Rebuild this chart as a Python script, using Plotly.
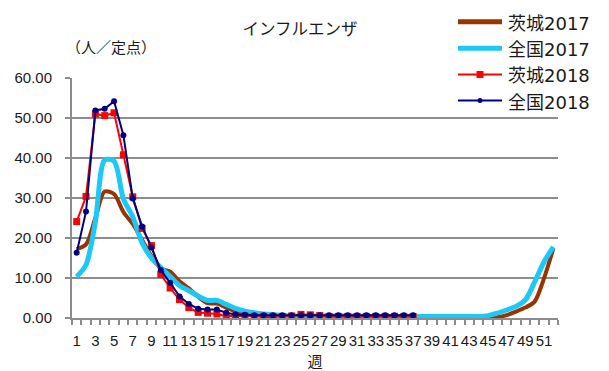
import plotly.graph_objects as go

# Weekly influenza reports per sentinel site (人／定点)
weeks_2017 = list(range(1, 53))
weeks_2018 = list(range(1, 38))

ibaraki_2017 = [17.2, 18.4, 25.0, 31.6, 31.0, 26.5, 23.5, 19.5, 15.5, 12.4,
                11.6, 9.2, 7.4, 5.3, 3.7, 3.6, 2.6, 1.6, 1.1, 0.8,
                0.5, 0.4, 0.3, 0.3, 0.2, 0.2, 0.2, 0.1, 0.1, 0.1,
                0.1, 0.1, 0.1, 0.1, 0.1, 0.1, 0.1, 0.1, 0.1, 0.1,
                0.1, 0.1, 0.1, 0.1, 0.1, 0.2, 0.7, 1.6, 2.6, 4.1,
                9.9, 17.4]

zenkoku_2017 = [10.3, 13.3, 24.0, 39.5, 39.2, 29.8, 25.3, 18.8, 15.0, 12.6,
                10.4, 8.1, 6.8, 5.5, 4.4, 4.4, 3.4, 2.4, 1.7, 1.3,
                1.0, 0.8, 0.6, 0.5, 0.5, 0.5, 0.5, 0.5, 0.5, 0.5,
                0.5, 0.4, 0.4, 0.4, 0.4, 0.4, 0.4, 0.4, 0.4, 0.4,
                0.4, 0.4, 0.4, 0.4, 0.6, 1.2, 2.0, 2.9, 4.5, 9.0,
                14.0, 17.8]

ibaraki_2018 = [24.1, 30.4, 51.0, 50.6, 51.3, 40.8, 30.3, 22.4, 18.1, 10.9,
                7.5, 4.6, 2.6, 1.4, 1.2, 1.0, 0.5, 0.5, 0.5, 0.4,
                0.4, 0.4, 0.4, 0.5, 0.9, 0.8, 0.6, 0.4, 0.4, 0.4,
                0.4, 0.4, 0.4, 0.4, 0.4, 0.4, 0.4]

zenkoku_2018 = [16.3, 26.6, 51.9, 52.3, 54.2, 45.7, 29.9, 22.9, 17.6, 12.0,
                8.8, 5.4, 3.5, 2.3, 2.1, 2.1, 1.3, 0.9, 0.8, 0.7,
                0.7, 0.7, 0.7, 0.7, 0.7, 0.7, 0.7, 0.7, 0.7, 0.7,
                0.7, 0.7, 0.7, 0.7, 0.7, 0.7, 0.7]

x_tick_weeks = list(range(1, 52, 2))
y_ticks = [0, 10, 20, 30, 40, 50, 60]

GRID = "#8c8c8c"
TEXT = "#1a1a1a"
CJK = "Noto Sans CJK JP"
LATIN = "Liberation Sans"

# Plot box in pixels (609 x 371 canvas)
L, R, T, B = 72, 51, 78, 53
PW, PH = 609 - L - R, 371 - T - B


def px_x(px):
    return (px - L) / PW


def px_y(py):
    return (371 - B - py) / PH


series = [
    dict(name="茨城", year="2017", x=weeks_2017, y=ibaraki_2017, color="#993300", width=4,
         spline=True, marker=None),
    dict(name="全国", year="2017", x=weeks_2017, y=zenkoku_2017, color="#1cc8f5", width=5,
         spline=True, marker=None),
    dict(name="茨城", year="2018", x=weeks_2018, y=ibaraki_2018, color="#ff0000", width=2,
         spline=False, marker=("square", 7)),
    dict(name="全国", year="2018", x=weeks_2018, y=zenkoku_2018, color="#000080", width=2,
         spline=False, marker=("circle", 6)),
]

fig = go.Figure()
for s in series:
    line = dict(color=s["color"], width=s["width"])
    if s["spline"]:
        line.update(shape="spline", smoothing=0.8)
    kw = dict(x=s["x"], y=s["y"], name=s["name"] + s["year"], line=line)
    if s["marker"]:
        kw.update(mode="lines+markers",
                  marker=dict(symbol=s["marker"][0], size=s["marker"][1], color=s["color"]))
    else:
        kw.update(mode="lines")
    fig.add_trace(go.Scatter(**kw))

# Legend drawn in the upper right corner, overlapping the plot box
shapes, annotations = [], []
legend_rows = [21.7, 48.3, 74.5, 100.5]
for s, row in zip(series, legend_rows):
    yy = px_y(row)
    shapes.append(dict(type="line", xref="paper", yref="paper",
                       x0=px_x(458), x1=px_x(502), y0=yy, y1=yy,
                       line=dict(color=s["color"], width=5 if s["width"] >= 4 else 2)))
    if s["marker"]:
        sym, size = s["marker"]
        half = size / 2 if sym == "square" else size / 2 - 0.5
        shapes.append(dict(type="rect" if sym == "square" else "circle",
                           xref="paper", yref="paper", xsizemode="pixel", ysizemode="pixel",
                           xanchor=px_x(480), yanchor=yy,
                           x0=-half, x1=half, y0=-half, y1=half,
                           fillcolor=s["color"], line=dict(width=0)))
    label = (s["name"] + '<span style="font-family:DejaVu Sans">' + s["year"] + "</span>")
    annotations.append(dict(text=label, xref="paper", yref="paper",
                            x=px_x(506), y=yy, xanchor="left", yanchor="middle",
                            showarrow=False,
                            font=dict(family=CJK, size=18, color=TEXT)))

annotations.append(dict(
    text="（人／定点）", xref="paper", yref="paper",
    x=px_x(111), y=px_y(46), xanchor="center", yanchor="middle", showarrow=False,
    font=dict(family=CJK, size=15, color=TEXT),
))

fig.update_layout(
    width=609, height=371,
    margin=dict(l=L, r=R, t=T, b=B),
    paper_bgcolor="white", plot_bgcolor="white",
    showlegend=False,
    title=dict(
        text="インフルエンザ", font=dict(family=CJK, size=16.5, color=TEXT),
        xref="container", yref="container", x=300 / 609, y=1 - 29 / 371,
        xanchor="center", yanchor="middle",
    ),
    shapes=shapes,
    annotations=annotations,
)

fig.update_xaxes(
    range=[0.5, 52.5], tickmode="array", tickvals=x_tick_weeks,
    ticktext=[str(w) for w in x_tick_weeks],
    ticks="", showgrid=False, zeroline=False, automargin=False,
    showline=True, linecolor=GRID, linewidth=2,
    tickfont=dict(family=LATIN, size=15, color=TEXT),
    ticklabelstandoff=8,
    minor=dict(tickmode="linear", tick0=0.5, dtick=1, ticks="outside",
               ticklen=5, tickcolor=GRID, tickwidth=1.5, showgrid=False),
    title=dict(text="週", font=dict(family=CJK, size=15, color=TEXT), standoff=10),
)

fig.update_yaxes(
    range=[0, 60], tickmode="array", tickvals=y_ticks,
    ticktext=[f"{v:.2f}" for v in y_ticks],
    showgrid=True, gridcolor=GRID, gridwidth=2, zeroline=False, automargin=False,
    showline=True, linecolor=GRID, linewidth=2,
    ticks="outside", ticklen=5, tickcolor=GRID, tickwidth=1.5,
    tickfont=dict(family=LATIN, size=15, color=TEXT),
    ticklabelstandoff=10,
)

fig.write_html("out.html")
